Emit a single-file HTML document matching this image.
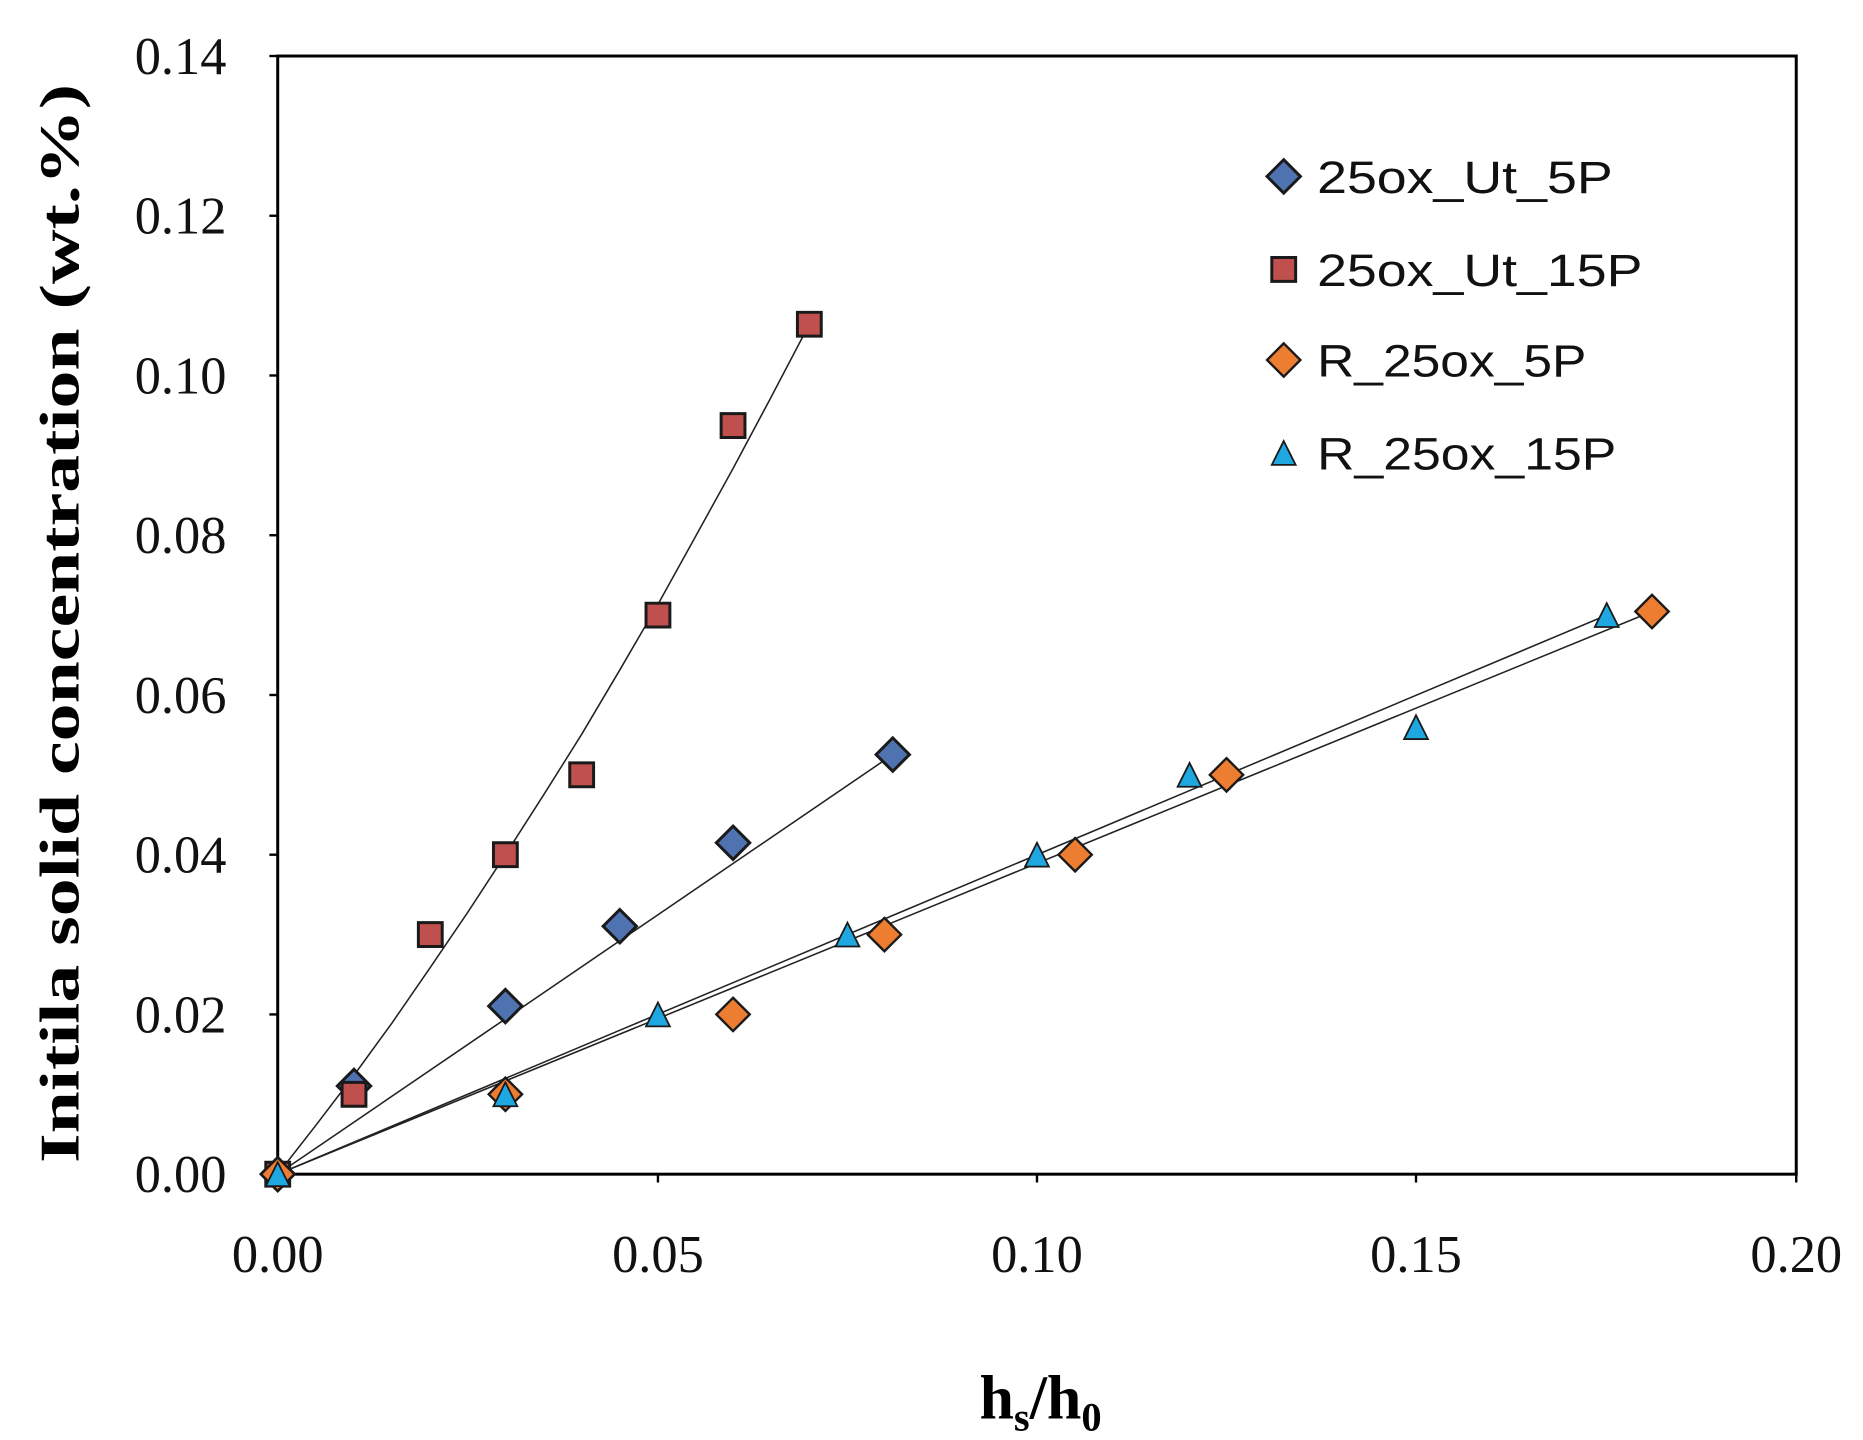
<!DOCTYPE html>
<html><head><style>html,body{margin:0;padding:0;background:#fff}svg{display:block}</style></head><body>
<svg width="1863" height="1440" viewBox="0 0 1563 1208" preserveAspectRatio="none" xmlns="http://www.w3.org/2000/svg">
<rect width="1563" height="1208" fill="#fff"/>
<g font-family="Liberation Serif, serif" font-size="44" fill="#111">
<text x="190" y="62" text-anchor="end">0.14</text>
<text x="190" y="196" text-anchor="end">0.12</text>
<text x="190" y="330" text-anchor="end">0.10</text>
<text x="190" y="464" text-anchor="end">0.08</text>
<text x="190" y="598" text-anchor="end">0.06</text>
<text x="190" y="732" text-anchor="end">0.04</text>
<text x="190" y="866" text-anchor="end">0.02</text>
<text x="190" y="1000" text-anchor="end">0.00</text>
<text x="233" y="1067" text-anchor="middle">0.00</text>
<text x="552" y="1067" text-anchor="middle">0.05</text>
<text x="870" y="1067" text-anchor="middle">0.10</text>
<text x="1188" y="1067" text-anchor="middle">0.15</text>
<text x="1507" y="1067" text-anchor="middle">0.20</text>
</g>
<g stroke="#000" stroke-width="2">
<line x1="226" y1="47" x2="233" y2="47"/><line x1="226" y1="181" x2="233" y2="181"/><line x1="226" y1="315" x2="233" y2="315"/><line x1="226" y1="449" x2="233" y2="449"/><line x1="226" y1="583" x2="233" y2="583"/><line x1="226" y1="717" x2="233" y2="717"/><line x1="226" y1="851" x2="233" y2="851"/><line x1="226" y1="985" x2="233" y2="985"/>
<line x1="233" y1="985" x2="233" y2="992"/><line x1="552" y1="985" x2="552" y2="992"/><line x1="870" y1="985" x2="870" y2="992"/><line x1="1188" y1="985" x2="1188" y2="992"/><line x1="1507" y1="985" x2="1507" y2="992"/>
</g>
<rect x="233" y="47" width="1274" height="938" fill="none" stroke="#000" stroke-width="2.5"/>
<text x="873" y="1190" text-anchor="middle" font-family="Liberation Serif, serif" font-weight="bold" font-size="52">h<tspan font-size="34" dy="10">s</tspan><tspan dy="-10">/h</tspan><tspan font-size="34" dy="10">0</tspan></text>
<text transform="translate(66,523) rotate(-90)" text-anchor="middle" font-family="Liberation Serif, serif" font-weight="bold" font-size="47" textLength="905" lengthAdjust="spacingAndGlyphs">Initila solid concentration (wt.%)</text>
<g fill="none" stroke="#222" stroke-width="1.3">
<line x1="233" y1="985" x2="749" y2="633"/>
<line x1="233" y1="985" x2="1386" y2="513"/>
<line x1="233" y1="985" x2="1348" y2="516"/>
<path d="M233,985 L265,944 L297,902 L329,858 L360,813 L392,766 L424,717 L456,667 L488,616 L520,562 L552,507 L583,451 L615,393 L647,333 L679,272"/>
</g>
<defs>
<path id="dm" d="M0,-14 L14,0 L0,14 L-14,0Z"/>
<path id="sq" d="M-10,-10 H10 V10 H-10Z"/>
<path id="tr" d="M0,-12 L10,8 L-10,8Z"/>
</defs>
<g fill="#4f73b0" stroke="#1a1a1a" stroke-width="2.5">
<use href="#dm" x="233" y="985"/><use href="#dm" x="297" y="911"/><use href="#dm" x="424" y="844"/><use href="#dm" x="520" y="777"/><use href="#dm" x="615" y="707"/><use href="#dm" x="749" y="633"/>
<use href="#dm" x="1077" y="148"/>
</g>
<g fill="#c0504d" stroke="#1a1a1a" stroke-width="2.5">
<use href="#sq" x="233" y="985"/><use href="#sq" x="297" y="918"/><use href="#sq" x="361" y="784"/><use href="#sq" x="424" y="717"/><use href="#sq" x="488" y="650"/><use href="#sq" x="552" y="516"/><use href="#sq" x="615" y="357"/><use href="#sq" x="679" y="272"/>
<use href="#sq" x="1077" y="226"/>
</g>
<g fill="#ed7d31" stroke="#1a1a1a" stroke-width="2">
<use href="#dm" x="233" y="985"/><use href="#dm" x="424" y="918"/><use href="#dm" x="615" y="851"/><use href="#dm" x="742" y="784"/><use href="#dm" x="902" y="717"/><use href="#dm" x="1029" y="650"/><use href="#dm" x="1386" y="513"/>
<use href="#dm" x="1077" y="302"/>
</g>
<g fill="#1ea7e0" stroke="#1a1a1a" stroke-width="1.5">
<use href="#tr" x="233" y="987"/><use href="#tr" x="424" y="920"/><use href="#tr" x="552" y="853"/><use href="#tr" x="711" y="786"/><use href="#tr" x="870" y="719"/><use href="#tr" x="998" y="652"/><use href="#tr" x="1188" y="612"/><use href="#tr" x="1348" y="518"/>
<use href="#tr" x="1077" y="382"/>
</g>
<g font-family="Liberation Sans, sans-serif" font-size="38" fill="#111">
<text x="1105" y="162" textLength="248" lengthAdjust="spacingAndGlyphs">25ox_Ut_5P</text>
<text x="1105" y="240" textLength="273" lengthAdjust="spacingAndGlyphs">25ox_Ut_15P</text>
<text x="1105" y="316" textLength="226" lengthAdjust="spacingAndGlyphs">R_25ox_5P</text>
<text x="1105" y="394" textLength="251" lengthAdjust="spacingAndGlyphs">R_25ox_15P</text>
</g>
</svg>
</body></html>
